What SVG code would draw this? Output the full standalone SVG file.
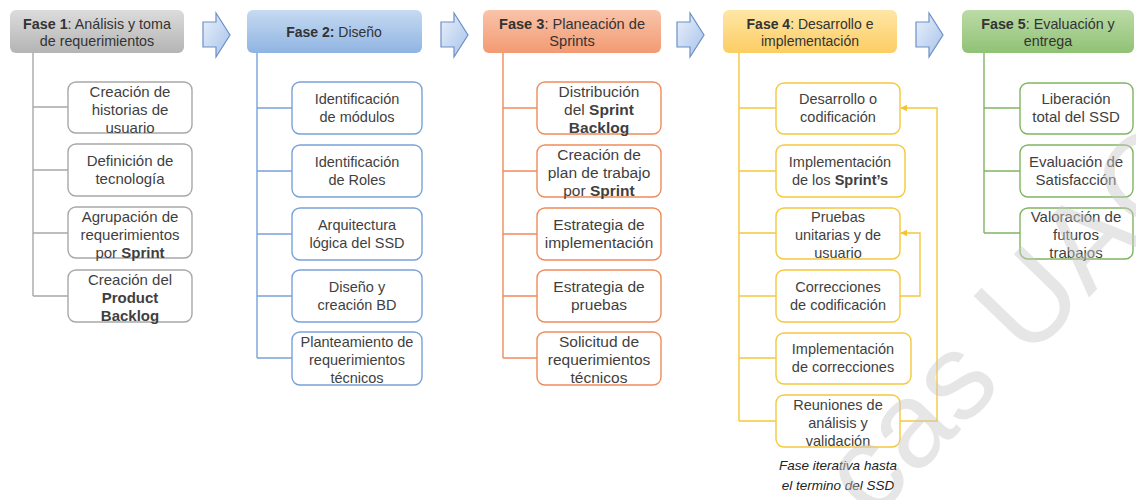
<svg xmlns="http://www.w3.org/2000/svg" width="1136" height="500" viewBox="0 0 1136 500">
  <defs>
    <linearGradient id="gGray" x1="0" y1="0" x2="0" y2="1">
      <stop offset="0" stop-color="#dcdcdc"/><stop offset="1" stop-color="#b4b4b4"/>
    </linearGradient>
    <linearGradient id="gBlue" x1="0" y1="0" x2="0" y2="1">
      <stop offset="0" stop-color="#c6daf2"/><stop offset="1" stop-color="#8fb4e1"/>
    </linearGradient>
    <linearGradient id="gOrange" x1="0" y1="0" x2="0" y2="1">
      <stop offset="0" stop-color="#f9c4aa"/><stop offset="1" stop-color="#f39a72"/>
    </linearGradient>
    <linearGradient id="gYellow" x1="0" y1="0" x2="0" y2="1">
      <stop offset="0" stop-color="#ffe6a6"/><stop offset="1" stop-color="#fccd62"/>
    </linearGradient>
    <linearGradient id="gGreen" x1="0" y1="0" x2="0" y2="1">
      <stop offset="0" stop-color="#bcdba8"/><stop offset="1" stop-color="#8fc274"/>
    </linearGradient>
    <linearGradient id="gArrow" x1="0" y1="0" x2="1" y2="1">
      <stop offset="0" stop-color="#eaf1fb"/><stop offset="1" stop-color="#a6c2ea"/>
    </linearGradient>
    <marker id="arrY" viewBox="0 0 10 10" refX="9" refY="5" markerWidth="5" markerHeight="5" orient="auto">
      <path d="M0,0 L10,5 L0,10 z" fill="#f4c431"/>
    </marker>
    <path id="phaseArrow" d="M0,9 H13 V0 L27,22 L13,44 V34 H0 Z"/>
  </defs>
  <style>
    text { font-family: "Liberation Sans", Arial, sans-serif; font-size: 14.5px; fill: #3f3f3f; text-anchor: middle; }
    .hd { fill: #333333; font-size: 14px; }
    .b { font-weight: bold; }
    .box { fill: #ffffff; stroke-width: 1.4; }
    .head { stroke: none; }
    .c1 { stroke: #a8a8a8; } .c2 { stroke: #78a2da; } .c3 { stroke: #ef8c5b; }
    .c4 { stroke: #f6c83c; } .c5 { stroke: #7fb562; }
    #col1 text { font-size: 15px; }
    #col3 text { font-size: 15.5px; }
    #col5 text { font-size: 15px; }
    #col3 .hd { font-size: 14.6px; }
    #col1 .hd, #col5 .hd { font-size: 14.3px; }
    .ln { fill: none; stroke-width: 1.4; }
    .pa { fill: url(#gArrow); stroke: #6d8fc6; stroke-width: 1.2; }
    .note { font-style: italic; font-size: 13.5px; fill: #222222; }
    .wm { font-size: 122px; fill: #c8c8c8; fill-opacity: 0.45; text-anchor: start; }
  </style>

  <!-- arrows between the phases -->
  <g id="phase-arrows">
    <use href="#phaseArrow" class="pa" x="203" y="13"/>
    <use href="#phaseArrow" class="pa" x="441" y="13"/>
    <use href="#phaseArrow" class="pa" x="677" y="13"/>
    <use href="#phaseArrow" class="pa" x="916" y="13"/>
  </g>

  <!-- connectors: trunks, branches and iteration loops -->
  <g id="connectors">
    <path class="ln c1" d="M33,53 V296 M33,107 H68 M33,170 H68 M33,233 H68 M33,296 H68"/>
    <path class="ln c2" d="M257,53 V358 M257,108 H292 M257,171 H292 M257,234 H292 M257,296 H292 M257,358 H292"/>
    <path class="ln c3" d="M503,53 V358 M503,108 H537 M503,171 H537 M503,234 H537 M503,296 H537 M503,358 H537"/>
    <path class="ln c4" d="M739,53 V421 M739,108 H776 M739,171 H776 M739,233 H776 M739,296 H776 M739,358 H776 M739,421 H776"/>
    <path class="ln c5" d="M984,53 V233 M984,108 H1020 M984,171 H1020 M984,233 H1020"/>
    <path class="ln c4" d="M900,421 H937 V108 H901" marker-end="url(#arrY)"/>
    <path class="ln c4" d="M900,296 H920 V233 H901" marker-end="url(#arrY)"/>
  </g>

  <g id="col1">
    <g id="fase1">
      <rect class="head" x="10" y="10" width="174" height="43" rx="6" fill="url(#gGray)"/>
      <text class="hd" x="97" y="29"><tspan class="b">Fase 1</tspan>: Análisis y toma</text>
      <text class="hd" x="97" y="46">de requerimientos</text>
    </g>
    <g id="f1-historias">
      <rect class="box c1" x="68" y="82" width="124" height="51" rx="8"/>
      <text x="130" y="97">Creación de</text><text x="130" y="115">historias de</text><text x="130" y="133">usuario</text>
    </g>
    <g id="f1-tecnologia">
      <rect class="box c1" x="68" y="144" width="124" height="52" rx="8"/>
      <text x="130" y="166">Definición de</text><text x="130" y="184">tecnología</text>
    </g>
    <g id="f1-agrupacion">
      <rect class="box c1" x="68" y="207" width="124" height="51" rx="8"/>
      <text x="130" y="222">Agrupación de</text><text x="130" y="240">requerimientos</text><text x="130" y="258">por <tspan class="b">Sprint</tspan></text>
    </g>
    <g id="f1-backlog">
      <rect class="box c1" x="68" y="270" width="124" height="52" rx="8"/>
      <text x="130" y="285">Creación del</text><text x="130" y="303" class="b">Product</text><text x="130" y="321" class="b">Backlog</text>
    </g>
  </g>

  <g id="col2">
    <g id="fase2">
      <rect class="head" x="247" y="10" width="175" height="43" rx="6" fill="url(#gBlue)"/>
      <text class="hd" x="334" y="37"><tspan class="b">Fase 2:</tspan> Diseño</text>
    </g>
    <g id="f2-modulos">
      <rect class="box c2" x="292" y="82" width="130" height="52" rx="8"/>
      <text x="357" y="104">Identificación</text><text x="357" y="122">de módulos</text>
    </g>
    <g id="f2-roles">
      <rect class="box c2" x="292" y="145" width="130" height="52" rx="8"/>
      <text x="357" y="167">Identificación</text><text x="357" y="185">de Roles</text>
    </g>
    <g id="f2-arquitectura">
      <rect class="box c2" x="292" y="208" width="130" height="52" rx="8"/>
      <text x="357" y="230">Arquitectura</text><text x="357" y="248">lógica del SSD</text>
    </g>
    <g id="f2-bd">
      <rect class="box c2" x="292" y="270" width="130" height="52" rx="8"/>
      <text x="357" y="292">Diseño y</text><text x="357" y="310">creación BD</text>
    </g>
    <g id="f2-tecnicos">
      <rect class="box c2" x="292" y="332" width="130" height="53" rx="8"/>
      <text x="357" y="347">Planteamiento de</text><text x="357" y="365">requerimientos</text><text x="357" y="383">técnicos</text>
    </g>
  </g>

  <g id="col3">
    <g id="fase3">
      <rect class="head" x="483" y="10" width="178" height="43" rx="6" fill="url(#gOrange)"/>
      <text class="hd" x="572" y="29"><tspan class="b">Fase 3</tspan>: Planeación de</text>
      <text class="hd" x="572" y="46">Sprints</text>
    </g>
    <g id="f3-distribucion">
      <rect class="box c3" x="537" y="82" width="124" height="52" rx="8"/>
      <text x="599" y="97">Distribución</text><text x="599" y="115">del <tspan class="b">Sprint</tspan></text><text x="599" y="133" class="b">Backlog</text>
    </g>
    <g id="f3-plan">
      <rect class="box c3" x="537" y="145" width="124" height="52" rx="8"/>
      <text x="599" y="160">Creación de</text><text x="599" y="178">plan de trabajo</text><text x="599" y="196">por <tspan class="b">Sprint</tspan></text>
    </g>
    <g id="f3-implementacion">
      <rect class="box c3" x="537" y="208" width="124" height="52" rx="8"/>
      <text x="599" y="230">Estrategia de</text><text x="599" y="248">implementación</text>
    </g>
    <g id="f3-pruebas">
      <rect class="box c3" x="537" y="270" width="124" height="52" rx="8"/>
      <text x="599" y="292">Estrategia de</text><text x="599" y="310">pruebas</text>
    </g>
    <g id="f3-solicitud">
      <rect class="box c3" x="537" y="332" width="124" height="53" rx="8"/>
      <text x="599" y="347">Solicitud de</text><text x="599" y="365">requerimientos</text><text x="599" y="383">técnicos</text>
    </g>
  </g>

  <g id="col4">
    <g id="fase4">
      <rect class="head" x="723" y="10" width="174" height="43" rx="6" fill="url(#gYellow)"/>
      <text class="hd" x="810" y="29"><tspan class="b">Fase 4</tspan>: Desarrollo e</text>
      <text class="hd" x="810" y="46">implementación</text>
    </g>
    <g id="f4-desarrollo">
      <rect class="box c4" x="776" y="83" width="124" height="51" rx="8"/>
      <text x="838" y="104">Desarrollo o</text><text x="838" y="122">codificación</text>
    </g>
    <g id="f4-sprints">
      <rect class="box c4" x="776" y="145" width="129" height="52" rx="8"/>
      <text x="840" y="167">Implementación</text><text x="840" y="185">de los <tspan class="b">Sprint’s</tspan></text>
    </g>
    <g id="f4-pruebas">
      <rect class="box c4" x="776" y="208" width="124" height="51" rx="8"/>
      <text x="838" y="222">Pruebas</text><text x="838" y="240">unitarias y de</text><text x="838" y="258">usuario</text>
    </g>
    <g id="f4-correcciones">
      <rect class="box c4" x="776" y="270" width="124" height="52" rx="8"/>
      <text x="838" y="292">Correcciones</text><text x="838" y="310">de codificación</text>
    </g>
    <g id="f4-implementacion">
      <rect class="box c4" x="776" y="333" width="135" height="51" rx="8"/>
      <text x="843" y="354">Implementación</text><text x="843" y="372">de correcciones</text>
    </g>
    <g id="f4-reuniones">
      <rect class="box c4" x="776" y="395" width="124" height="52" rx="8"/>
      <text x="838" y="410">Reuniones de</text><text x="838" y="428">análisis y</text><text x="838" y="446">validación</text>
    </g>
    <g id="f4-nota">
      <text class="note" x="838" y="470">Fase iterativa hasta</text>
      <text class="note" x="838" y="490">el termino del SSD</text>
    </g>
  </g>

  <g id="col5">
    <g id="fase5">
      <rect class="head" x="962" y="10" width="172" height="43" rx="6" fill="url(#gGreen)"/>
      <text class="hd" x="1048" y="29"><tspan class="b">Fase 5</tspan>: Evaluación y</text>
      <text class="hd" x="1048" y="46">entrega</text>
    </g>
    <g id="f5-liberacion">
      <rect class="box c5" x="1020" y="83" width="113" height="51" rx="8"/>
      <text x="1076" y="104">Liberación</text><text x="1076" y="122">total del SSD</text>
    </g>
    <g id="f5-satisfaccion">
      <rect class="box c5" x="1020" y="145" width="113" height="52" rx="8"/>
      <text x="1076" y="167">Evaluación de</text><text x="1076" y="185">Satisfacción</text>
    </g>
    <g id="f5-futuros">
      <rect class="box c5" x="1020" y="208" width="113" height="51" rx="8"/>
      <text x="1076" y="222">Valoración de</text><text x="1076" y="240">futuros</text><text x="1076" y="258">trabajos</text>
    </g>
  </g>

  <!-- watermark -->
  <text class="wm" x="872" y="522" transform="rotate(-46 872 522)">cas UAC</text>
</svg>
